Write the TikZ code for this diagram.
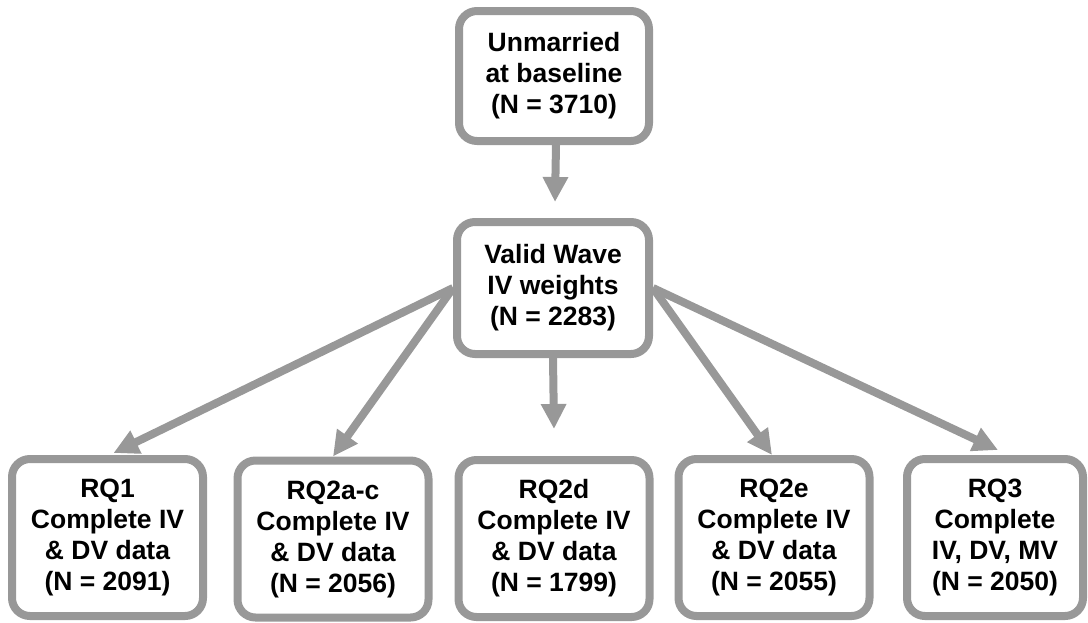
\documentclass[tikz,border=0pt]{standalone}
\usepackage{fontspec}
\setmainfont{Liberation Sans}
\usetikzlibrary{arrows.meta,calc}
\definecolor{boxgray}{RGB}{152,152,152}
\tikzset{
  flowbox/.style={draw=boxgray, line width=8pt, rounded corners=18pt, fill=white,
    align=center, inner sep=0pt, text=black,
    font=\fontsize{26.5}{31}\selectfont\bfseries},
  topbox/.style={flowbox, minimum width=190pt, minimum height=130pt},
  midbox/.style={flowbox, minimum width=192pt, minimum height=132pt},
  botbox/.style={flowbox, minimum width=191pt, minimum height=157pt},
  flowarrow/.style={draw=boxgray, line width=8pt,
    -{Triangle[width=24pt,length=25pt]}}
}
\begin{document}
\begin{tikzpicture}[x=1pt,y=-1pt]
\useasboundingbox (0,0) rectangle (1088,622);
\node[topbox] (top) at (554,76) {Unmarried\\at baseline\\(N = 3710)};
\node[midbox] (mid) at (553,288) {Valid Wave\\IV weights\\(N = 2283)};
\node[botbox] (rq1) at (107.5,537.5) {RQ1\\Complete IV\\\& DV data\\(N = 2091)};
\node[botbox] (rq2ac) at (333,539) {RQ2a-c\\Complete IV\\\& DV data\\(N = 2056)};
\node[botbox] (rq2d) at (554,538.5) {RQ2d\\Complete IV\\\& DV data\\(N = 1799)};
\node[botbox] (rq2e) at (774,537.5) {RQ2e\\Complete IV\\\& DV data\\(N = 2055)};
\node[botbox, minimum width=176pt] (rq3) at (995,537.5) {RQ3\\Complete\\IV, DV, MV\\(N = 2050)};
\draw[flowarrow] ($(top.south)+(2,0)$) -- ($(mid.north)+(2,-16)$);
\draw[flowarrow] (mid.south) -- ($(rq2d.north)+(0,-27)$);
\draw[flowarrow] (mid.west) -- ($(rq1.north)+(6,-2)$);
\draw[flowarrow] (mid.west) -- (rq2ac.north);
\draw[flowarrow] (mid.east) -- ($(rq2e.north)+(-2,0)$);
\draw[flowarrow] (mid.east) -- ($(rq3.north)+(3,-5)$);
\end{tikzpicture}
\end{document}
